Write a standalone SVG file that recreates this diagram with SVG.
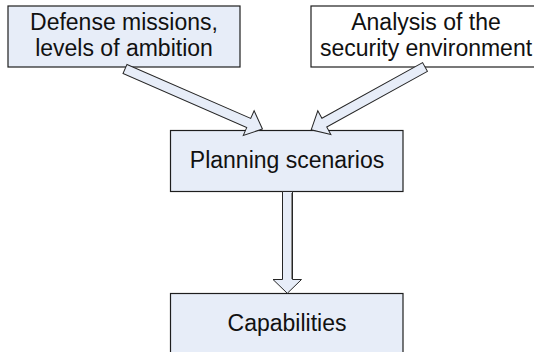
<svg xmlns="http://www.w3.org/2000/svg" width="534" height="352" viewBox="0 0 534 352">
<style>
.box{fill:#e7edf8;stroke:#1e1e1e;stroke-width:1.2}
.wbox{fill:#ffffff;stroke:#1e1e1e;stroke-width:1.2}
.shadow{fill:none;stroke:#9a9a9a;stroke-width:1}
.arr{fill:#e7edf8;stroke:#262626;stroke-width:1;stroke-linejoin:miter}
text{font-family:"Liberation Sans",Arial,sans-serif;font-size:23px;fill:#111;text-anchor:middle}
</style>
<rect width="534" height="352" fill="#ffffff"/>
<g id="node-defense">
<rect class="box" x="8" y="6" width="232" height="61"/>
<text x="124" y="30">Defense missions,</text>
<text x="124" y="56">levels of ambition</text>
</g>
<g id="node-analysis">
<rect class="wbox" x="311" y="6" width="232" height="61"/>
<text x="426" y="30">Analysis of the</text>
<text x="426" y="56">security environment</text>
</g>
<g id="node-planning">
<rect class="box" x="170.5" y="130.5" width="232.5" height="61"/>
<text x="287" y="168">Planning scenarios</text>
</g>
<g id="node-capabilities">
<rect class="box" x="170.5" y="293.5" width="232.5" height="61"/>
<text x="287" y="331">Capabilities</text>
</g>
<g id="connectors">
<polygon class="arr" transform="translate(125,69) rotate(23.6)" points="0,-5 135,-5 135,-13.5 150,0 135,13.5 135,5 0,5"/>
<polygon class="arr" transform="translate(425,67) rotate(151.1)" points="0,-5 115,-5 115,-13.5 130,0 115,13.5 115,5 0,5"/>
<polygon class="arr" points="282.5,191.5 292.5,191.5 292.5,279.5 301.5,279.5 287.3,293.3 273,279.5 282.5,279.5"/>
<line x1="291.5" y1="193" x2="291.5" y2="279" stroke="#8c8c8c" stroke-width="1"/>
</g>
</svg>
